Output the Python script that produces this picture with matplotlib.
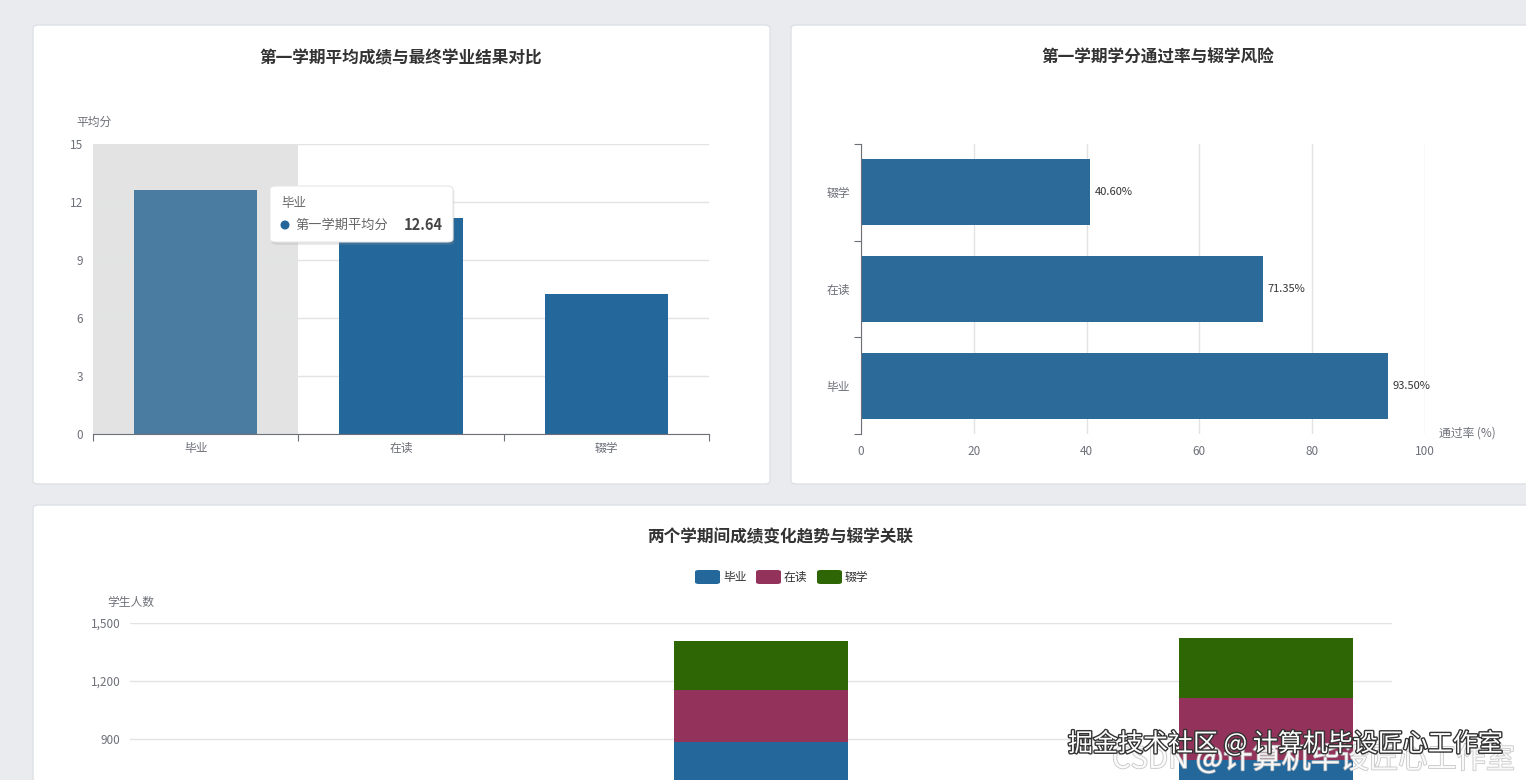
import matplotlib
matplotlib.use('Agg')
import matplotlib.pyplot as plt
import matplotlib.patheffects as pe
from matplotlib.patches import FancyBboxPatch, Ellipse

plt.rcParams['font.family'] = ['Noto Sans CJK SC', 'DejaVu Sans']

# data
outcomes = ['毕业', '在读', '辍学']
sem1_avg_score = [12.64, 11.17, 7.24]
sem1_pass_rate = [93.50, 71.35, 40.60]

# bottom chart is cut off in the screenshot, only categories 3 and 5 are visible
trend_labels = ['大幅下降', '小幅下降', '基本持平', '小幅上升', '大幅上升']
trend_graduate = [110, 260, 884, 330, 791]
trend_enrolled = [40, 120, 269, 110, 323]
trend_dropout = [30, 140, 254, 90, 308]
count_ticks = [0, 300, 600, 900, 1200, 1500]

W, H = 1526, 780
BLUE = '#24679a'
RED = '#93325a'
GREEN = '#2e6505'
AXIS_GRAY = '#6e7079'
GRID = '#e2e3e6'
TEXT = '#333333'

fig = plt.figure(figsize=(W / 100, H / 100), dpi=100)
fig.patch.set_facecolor('#e9ebee')


def fx(x):
    return x / W


def fy(y):
    return 1 - y / H


def axes_px(left, top, right, bottom):
    return fig.add_axes([left / W, 1 - bottom / H, (right - left) / W, (bottom - top) / H])


def card(left, top, right, bottom):
    box = FancyBboxPatch((fx(left), fy(bottom)), (right - left) / W, (bottom - top) / H,
                         boxstyle='round,pad=0,rounding_size=0.004',
                         transform=fig.transFigure, facecolor='white',
                         edgecolor='#dde0e5', linewidth=1.0, zorder=-5)
    fig.patches.append(box)


card(33, 25, 770, 484)
card(791, 25, 1540, 484)
card(33, 505, 1540, 800)

# ---- chart 1: average score by outcome ----
ax1 = axes_px(93, 144, 709, 434)
ax1.axvspan(-0.5, 0.5, color='#e3e3e3', zorder=0.3, lw=0)
bar_colors = ['#4a7ba0', BLUE, BLUE]
ax1.bar(range(len(outcomes)), sem1_avg_score, width=0.6, color=bar_colors, zorder=2)
ax1.set_xlim(-0.5, len(outcomes) - 0.5)
ax1.set_ylim(0, 15)
ax1.set_yticks(range(0, 16, 3))
ax1.yaxis.grid(True, color=GRID, lw=1)
ax1.set_axisbelow(True)
ax1.set_xticks([-0.5, 0.5, 1.5, 2.5])
ax1.set_xticklabels([])
ax1.set_xticks(range(len(outcomes)), minor=True)
ax1.set_xticklabels(outcomes, minor=True)
ax1.tick_params(axis='x', which='major', length=5, color=AXIS_GRAY)
ax1.tick_params(axis='x', which='minor', length=0, labelsize=8.5, labelcolor=AXIS_GRAY, pad=6)
ax1.tick_params(axis='y', length=0, labelsize=8.5, labelcolor=AXIS_GRAY, pad=7)
for s in ['top', 'right', 'left']:
    ax1.spines[s].set_visible(False)
ax1.spines['bottom'].set_color(AXIS_GRAY)
fig.text(fx(94), fy(122), '平均分', ha='center', va='center', fontsize=8.5, color=AXIS_GRAY)
fig.text(fx(401), fy(58), '第一学期平均成绩与最终学业结果对比', ha='center', va='center',
         fontsize=12, fontweight='bold', color=TEXT)

# tooltip
tip = FancyBboxPatch((fx(270), fy(242)), 183 / W, 56 / H,
                     boxstyle='round,pad=0,rounding_size=0.004', transform=fig.transFigure,
                     facecolor='white', edgecolor='#e6e6e6', linewidth=0.8, zorder=5,
                     path_effects=[pe.SimplePatchShadow(offset=(1, -2), shadow_rgbFace='#999999', alpha=0.25),
                                   pe.Normal()])
fig.patches.append(tip)
fig.text(fx(281), fy(203), outcomes[0], ha='left', va='center', fontsize=9, color='#666666', zorder=6)
fig.patches.append(Ellipse((fx(285), fy(225)), 9 / W, 9 / H, transform=fig.transFigure,
                           facecolor=BLUE, edgecolor='none', zorder=6))
fig.text(fx(295), fy(225), '第一学期平均分', ha='left', va='center', fontsize=9.5, color='#666666', zorder=6)
fig.text(fx(443), fy(225), f'{sem1_avg_score[0]:.2f}', ha='right', va='center', fontsize=10.5,
         fontweight='bold', color='#464646', zorder=6)

# ---- chart 2: pass rate ----
ax2 = axes_px(861, 144, 1425, 434)
ax2.barh(range(len(outcomes)), sem1_pass_rate, height=0.68, color='#2b6a99', zorder=2)
for i, v in enumerate(sem1_pass_rate):
    ax2.text(v + 0.8, i, f'{v:.2f}%', ha='left', va='center', fontsize=8, color=TEXT)
ax2.set_xlim(0, 100)
ax2.set_ylim(-0.5, len(outcomes) - 0.5)
ax2.set_xticks(range(0, 101, 20))
ax2.xaxis.grid(True, color=GRID, lw=1)
ax2.set_axisbelow(True)
ax2.set_yticks([-0.5, 0.5, 1.5, 2.5])
ax2.set_yticklabels([])
ax2.set_yticks(range(len(outcomes)), minor=True)
ax2.set_yticklabels(outcomes, minor=True)
ax2.tick_params(axis='y', which='major', length=5, color=AXIS_GRAY)
ax2.tick_params(axis='y', which='minor', length=0, labelsize=8.5, labelcolor=AXIS_GRAY, pad=8)
ax2.tick_params(axis='x', length=0, labelsize=8.5, labelcolor=AXIS_GRAY, pad=8)
for s in ['top', 'right', 'bottom']:
    ax2.spines[s].set_visible(False)
ax2.spines['left'].set_color(AXIS_GRAY)
fig.text(fx(1439), fy(433), '通过率 (%)', ha='left', va='center', fontsize=8.5, color=AXIS_GRAY)
fig.text(fx(1158), fy(58), '第一学期学分通过率与辍学风险', ha='center', va='center',
         fontsize=12, fontweight='bold', color=TEXT)

# ---- chart 3: trend vs outcome (stacked) ----
ax3 = axes_px(130, 623, 1392, 913)
xs = range(len(trend_labels))
bottom2 = [a + b for a, b in zip(trend_graduate, trend_enrolled)]
ax3.bar(xs, trend_graduate, width=0.69, color=BLUE, zorder=2)
ax3.bar(xs, trend_enrolled, width=0.69, bottom=trend_graduate, color=RED, zorder=2)
ax3.bar(xs, trend_dropout, width=0.69, bottom=bottom2, color=GREEN, zorder=2)
ax3.set_xlim(-0.5, len(trend_labels) - 0.5)
ax3.set_ylim(0, 1500)
ax3.set_yticks(count_ticks)
# labels below 900 fall outside the screenshot
ax3.set_yticklabels([f'{v:,}' if v >= 900 else '' for v in count_ticks])
ax3.yaxis.grid(True, color=GRID, lw=1)
ax3.set_axisbelow(True)
ax3.set_xticks(list(xs))
ax3.set_xticklabels(trend_labels)
ax3.tick_params(axis='x', length=0, labelbottom=False)
ax3.tick_params(axis='y', length=0, labelsize=8.5, labelcolor=AXIS_GRAY, pad=7)
for s in ['top', 'right', 'left']:
    ax3.spines[s].set_visible(False)
ax3.spines['bottom'].set_color(AXIS_GRAY)
fig.text(fx(131), fy(602), '学生人数', ha='center', va='center', fontsize=8.5, color=AXIS_GRAY)
fig.text(fx(780), fy(537), '两个学期间成绩变化趋势与辍学关联', ha='center', va='center',
         fontsize=12, fontweight='bold', color=TEXT)

# legend
leg_x = [695, 756, 817]
for x0, name, c in zip(leg_x, outcomes, [BLUE, RED, GREEN]):
    fig.patches.append(FancyBboxPatch((fx(x0), fy(584)), 25 / W, 14 / H,
                                      boxstyle='round,pad=0,rounding_size=0.0025',
                                      transform=fig.transFigure, facecolor=c, edgecolor='none'))
    fig.text(fx(x0 + 28), fy(577), name, ha='left', va='center', fontsize=8.5, color=TEXT)

# watermarks
fig.text(fx(1112), fy(760), 'CSDN @计算机毕设匠心工作室', ha='left', va='center', fontsize=21,
         color='white', alpha=0.85,
         path_effects=[pe.withStroke(linewidth=1.2, foreground='#c0c0c0')], zorder=10)
fig.text(fx(1068), fy(744), '掘金技术社区 @ 计算机毕设匠心工作室', ha='left', va='center', fontsize=18,
         color='white', path_effects=[pe.withStroke(linewidth=2, foreground='#333333')], zorder=11)

fig.savefig('out.png', dpi=100, facecolor=fig.get_facecolor())
